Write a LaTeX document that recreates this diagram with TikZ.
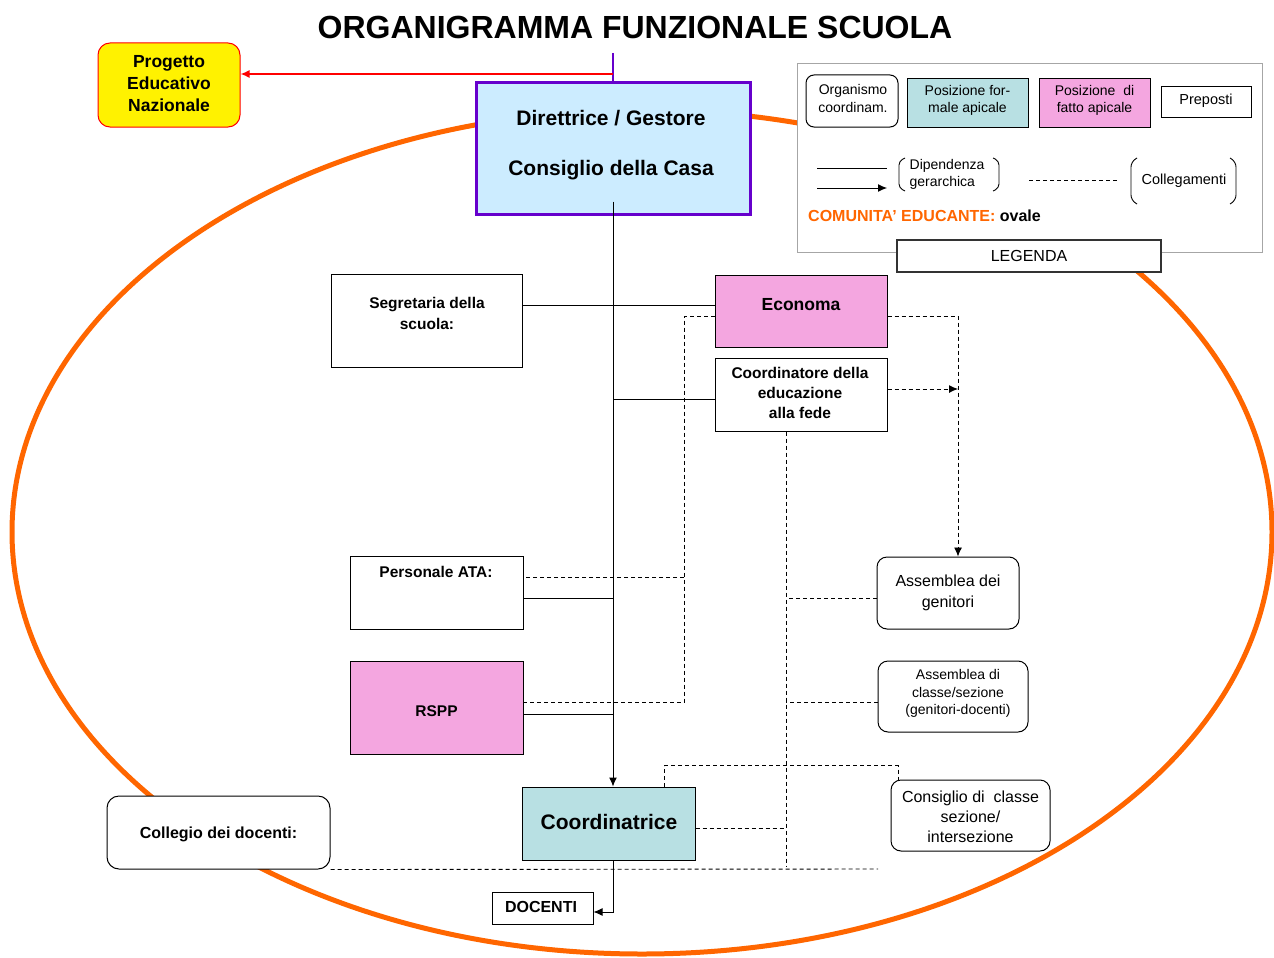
\documentclass[tikz,border=0pt]{standalone}
\usepackage{fontspec}
\setmainfont{Liberation Sans}
\usetikzlibrary{arrows.meta}
\definecolor{pinkf}{HTML}{F4A6E0}
\definecolor{tealf}{HTML}{B8E0E3}
\definecolor{bluef}{HTML}{CCECFF}
\definecolor{purp}{HTML}{6600CC}
\definecolor{orng}{HTML}{FF6600}
\definecolor{redl}{HTML}{FF0000}
\begin{document}
\begin{tikzpicture}[x=1pt,y=-1pt,
  bx/.style={draw, fill=white, inner sep=0pt, line width=1pt},
  rbx/.style={bx, rounded corners=10pt},
  txt/.style={align=center, inner sep=0pt},
  dsh/.style={dash pattern=on 4pt off 3pt, line width=0.9pt},
  sol/.style={line width=1pt},
  tip/.style={-{Latex[length=9pt,width=8pt]}}
]
\useasboundingbox (0,0) rectangle (1274,958);
\fill[white] (0,0) rectangle (1274,958);

% community ellipse
\draw[orng, line width=5pt] (642,532) ellipse [x radius=630, y radius=422];

% title
\node[txt, font=\fontsize{32}{36}\selectfont\bfseries] (title) at (635,27) {ORGANIGRAMMA FUNZIONALE SCUOLA};

% Progetto educativo
\node[bx, rounded corners=12pt, draw=redl, fill=yellow, minimum width=142pt, minimum height=84pt] (prog) at (169,85) {};
\node[txt, font=\fontsize{17.5}{22}\selectfont\bfseries] (progt) at (169,84) {Progetto\\Educativo\\Nazionale};

% Direttrice
\node[bx, draw=purp, fill=bluef, line width=3pt, minimum width=274pt, minimum height=132pt] (dir) at (613,148) {};
\node[txt, font=\fontsize{21}{25}\selectfont\bfseries] (dirt1) at (611,118) {Direttrice / Gestore};
\node[txt, font=\fontsize{21}{25}\selectfont\bfseries] (dirt2) at (611,170) {Consiglio della Casa};
\coordinate (ptop) at (613,53);
\coordinate (redstart) at (613,74);
\draw[purp, line width=1.5pt] (ptop) -- (dir.north);
\draw[redl, line width=1.5pt, tip] (redstart) -- (prog.east |- redstart);

% left boxes
\node[bx, minimum width=191pt, minimum height=93pt] (seg) at (426.5,320.5) {};
\node[txt, font=\fontsize{15.5}{21}\selectfont\bfseries] (segt) at (427,313.5) {Segretaria della\\scuola:};
\node[bx, minimum width=173pt, minimum height=73pt] (ata) at (436.5,592.5) {};
\node[txt, font=\fontsize{15.5}{20}\selectfont\bfseries] (atat) at (436,572) {Personale ATA:};
\node[bx, fill=pinkf, minimum width=173pt, minimum height=93pt] (rspp) at (436.5,707.5) {};
\node[txt, font=\fontsize{15.5}{20}\selectfont\bfseries] (rsppt) at (436.5,711) {RSPP};

% right boxes
\node[bx, fill=pinkf, minimum width=172pt, minimum height=72pt] (eco) at (801,311) {};
\node[txt, font=\fontsize{17.5}{22}\selectfont\bfseries] (ecot) at (801,305) {Economa};
\node[bx, minimum width=172pt, minimum height=73pt] (cf) at (801,394.5) {};
\node[txt, font=\fontsize{15.5}{20}\selectfont\bfseries] (cft) at (800,393) {Coordinatore della\\educazione\\alla fede};

\node[rbx, minimum width=142pt, minimum height=72pt] (asg) at (948,593) {};
\node[txt, font=\fontsize{16}{21}\selectfont] (asgt) at (948,593) {Assemblea dei\\genitori};
\node[rbx, minimum width=150pt, minimum height=71pt] (asc) at (953,696.5) {};
\node[txt, font=\fontsize{14}{17.5}\selectfont] (asct) at (958,693.5) {Assemblea di\\classe/sezione\\(genitori-docenti)};
\node[rbx, minimum width=159pt, minimum height=71pt] (con) at (970.5,815.5) {};
\node[txt, font=\fontsize{16}{20}\selectfont] (cont) at (970.5,817) {Consiglio di\ \ classe\\sezione/\\intersezione};

% bottom
\node[bx, fill=tealf, minimum width=173pt, minimum height=73pt] (coo) at (608.5,823.5) {};
\node[txt, font=\fontsize{21}{25}\selectfont\bfseries] (coot) at (609,822) {Coordinatrice};
\node[rbx, rounded corners=12pt, minimum width=223pt, minimum height=73pt] (col) at (218.5,832.5) {};
\node[txt, font=\fontsize{16}{20}\selectfont\bfseries] (colt) at (218.5,834) {Collegio dei docenti:};
\node[bx, minimum width=101pt, minimum height=32pt] (doc) at (542.5,908) {};
\node[txt, font=\fontsize{16}{20}\selectfont\bfseries] (doct) at (541,907) {DOCENTI};

% solid hierarchy
\draw[sol, tip] ([yshift=14pt]dir.south) -- (dir.south |- coo.north);
\draw[sol] ([yshift=6pt]eco.west) -- ([yshift=6pt]seg.east |- eco.west);
\draw[sol] ([yshift=-4.5pt]cf.west) -- ([yshift=-4.5pt]dir.south |- cf.west);
\draw[sol] ([yshift=-5.5pt]ata.east) -- ([yshift=-5.5pt]dir.south |- ata.east);
\draw[sol] ([yshift=-6.5pt]rspp.east) -- ([yshift=-6.5pt]dir.south |- rspp.east);
\draw[sol, tip] ([xshift=4.5pt]coo.south) |- ([yshift=-4pt]doc.east);

% dashed links
\coordinate (dl) at (684,702);
\coordinate (dlb) at (684,577);
\draw[dsh] ([yshift=-5pt]eco.west) -| (dl) -- (rspp.east |- dl);
\draw[dsh] (dlb) -- (ata.east |- dlb);
\draw[dsh, tip] ([yshift=-5pt]eco.east) -| ([xshift=10pt]asg.north);
\coordinate (rv) at (958,389);
\draw[dsh, tip] ([yshift=5.5pt]cf.east) -- (rv);
\coordinate (bv) at (786,866);
\draw[dsh] ([xshift=-15pt]cf.south) -- (bv);
\draw[dsh] ([yshift=-5pt]asg.west) -- ([yshift=-5pt]bv |- asg.west);
\draw[dsh] ([yshift=-5.5pt]asc.west) -- ([yshift=-5.5pt]bv |- asc.west);
\draw[dsh] ([yshift=-4.5pt]coo.east) -- ([yshift=-4.5pt]bv |- coo.east);
\draw[dsh] ([xshift=55.5pt]coo.north) |- ([xshift=-72.5pt,yshift=14pt]con.north) -- ([xshift=-72.5pt]con.north);
\coordinate (colend) at (878,869);
\draw[dsh] (col.south east) -- (colend);

% legend
\node[bx, draw=gray!70, minimum width=465pt, minimum height=188pt] (leg) at (1029.5,158) {};
\node[rbx, rounded corners=8pt, minimum width=92pt, minimum height=52pt] (lorg) at (852,101) {};
\node[txt, font=\fontsize{14}{18}\selectfont] (lorgt) at (853,98) {Organismo\\coordinam.};
\node[bx, fill=tealf, minimum width=121pt, minimum height=49pt] (lfor) at (967.5,102.5) {};
\node[txt, font=\fontsize{14}{17}\selectfont] (lfort) at (967.5,100.5) {Posizione for-\\male apicale};
\node[bx, fill=pinkf, minimum width=111pt, minimum height=49pt] (lfat) at (1094.5,102.5) {};
\node[txt, font=\fontsize{14}{17}\selectfont] (lfatt) at (1094.5,100.5) {Posizione\ \ di\\fatto apicale};
\node[bx, minimum width=90pt, minimum height=31pt] (lpre) at (1206,101.5) {};
\node[txt, font=\fontsize{14.5}{18}\selectfont] (lpret) at (1206,101) {Preposti};

\draw[sol] (817,168) -- (887,168);
\draw[sol, tip] (817,188) -- (887,188);
\draw[line width=0.9pt, rounded corners=4pt] (905,158) -- (899,161) -- (899,188) -- (905,191);
\draw[line width=0.9pt, rounded corners=4pt] (993,158) -- (999,161) -- (999,188) -- (993,191);
\node[txt, font=\fontsize{14}{17}\selectfont, align=left] (ldip) at (947,174.5) {Dipendenza\\gerarchica};
\draw[dsh] (1029,180) -- (1117,180);
\draw[line width=0.9pt, rounded corners=5pt] (1137,158) -- (1131,162) -- (1131,200) -- (1137,204);
\draw[line width=0.9pt, rounded corners=5pt] (1230,158) -- (1236,162) -- (1236,200) -- (1230,204);
\node[txt, font=\fontsize{14.5}{18}\selectfont] (lcol) at (1184,181) {Collegamenti};
\node[txt, anchor=west, font=\fontsize{16}{20}\selectfont\bfseries] (lcom) at (808,216) {\textcolor{orng}{COMUNITA’ EDUCANTE:} ovale};
\node[bx, draw=black!80, line width=2pt, minimum width=264pt, minimum height=32pt] (lleg) at (1029,256) {};
\node[txt, font=\fontsize{16}{20}\selectfont] (llegt) at (1029,256) {LEGENDA};
\end{tikzpicture}
\end{document}
